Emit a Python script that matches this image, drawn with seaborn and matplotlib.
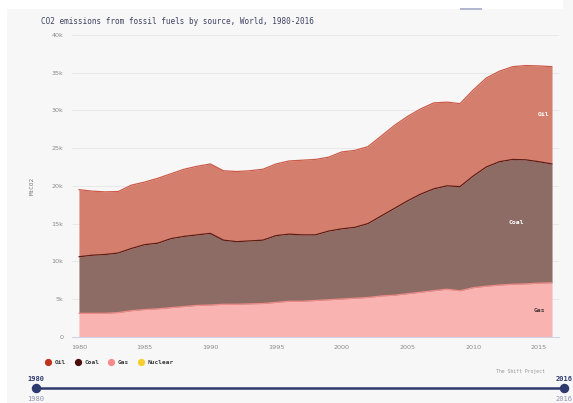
import numpy as np
import pandas as pd
import seaborn as sns
import matplotlib.pyplot as plt
from matplotlib.lines import Line2D

# values, MtCO2 (stacked tops converted to components)
years = list(range(1980, 2017))
gas = [3100, 3100, 3100, 3200, 3450, 3600, 3700, 3850, 4000, 4150,
       4200, 4300, 4300, 4350, 4400, 4550, 4700, 4700, 4800, 4900,
       5000, 5100, 5200, 5400, 5500, 5700, 5900, 6100, 6300, 6100,
       6500, 6700, 6850, 6950, 7000, 7100, 7150]
coal = [7500, 7700, 7800, 7900, 8250, 8600, 8700, 9150, 9300, 9350,
        9500, 8500, 8300, 8350, 8400, 8850, 8900, 8800, 8700, 9100,
        9300, 9400, 9800, 10600, 11500, 12300, 13000, 13500, 13700, 13800,
        14800, 15800, 16350, 16550, 16450, 16100, 15750]
oil = [8900, 8500, 8300, 8150, 8400, 8300, 8600, 8600, 8900, 9100,
       9200, 9200, 9300, 9300, 9400, 9500, 9700, 9900, 10000, 9800,
       10200, 10200, 10200, 10600, 11000, 11200, 11300, 11400, 11100, 11000,
       11400, 11800, 12000, 12300, 12500, 12700, 12900]
nuclear = [0] * len(years)

sources = ["Oil", "Coal", "Gas", "Nuclear"]
legend_colors = ["#c0321e", "#4b0c0a", "#f58a8a", "#f6cf2e"]
fill_colors = {"Gas": "#f9b4b2", "Coal": "#8e6c66", "Oil": "#d47f6e"}
edge_colors = {"Gas": "#f08a86", "Coal": "#5e1c14", "Oil": "#cd5a48"}

df = pd.DataFrame({"year": years, "Gas": gas, "Coal": coal, "Oil": oil, "Nuclear": nuclear})
df["Gas_top"] = df["Gas"]
df["Coal_top"] = df["Gas_top"] + df["Coal"]
df["Oil_top"] = df["Coal_top"] + df["Oil"]

sns.set_theme(style="white")
plt.rcParams["font.family"] = ["DejaVu Sans Mono"]
BG = "#f7f7f7"
NAVY = "#2e3a6e"

fig = plt.figure(figsize=(5.73, 4.03), dpi=100, facecolor=BG)
# white strip at the top and left like the page chrome
fig.patches.append(plt.Rectangle((0, 1 - 9 / 403), 563 / 573, 9 / 403, transform=fig.transFigure,
                                 facecolor="white", edgecolor="none"))
fig.patches.append(plt.Rectangle((0, 0), 7 / 573, 1, transform=fig.transFigure,
                                 facecolor="white", edgecolor="none"))
fig.patches.append(plt.Rectangle((460 / 573, 1 - 10 / 403), 22 / 573, 2 / 403, transform=fig.transFigure,
                                 facecolor="#b3b6cf", edgecolor="none"))

ax = fig.add_axes([71.7 / 573, 1 - 336.7 / 403, (559 - 71.7) / 573, (336.7 - 35) / 403])
ax.set_facecolor(BG)

prev = np.zeros(len(df))
for src in ["Gas", "Coal", "Oil"]:
    top = df[f"{src}_top"].values
    ax.fill_between(df["year"], prev, top, color=fill_colors[src], linewidth=0, zorder=2)
    sns.lineplot(data=df, x="year", y=f"{src}_top", color=edge_colors[src], linewidth=0.9, ax=ax, zorder=3)
    prev = top

ax.set_xlim(1979.45, 2016.53)
ax.set_ylim(0, 40000)
ax.set_yticks(range(0, 40001, 5000))
ax.set_yticklabels(["0"] + [f"{v}k" for v in range(5, 41, 5)])
ax.set_xticks(range(1980, 2016, 5))
ax.tick_params(axis="y", length=0, pad=6, labelsize=4.6, labelcolor="#8a8a8a")
ax.tick_params(axis="x", length=3, width=0.6, color="#cfd3e3", pad=3, labelsize=4.6, labelcolor="#8a8a8a")
for lbl in ax.get_xticklabels() + ax.get_yticklabels():
    lbl.set_family("DejaVu Sans")
ax.grid(axis="y", color="#e6e6e6", linewidth=0.6, zorder=0)
ax.set_axisbelow(True)
for side in ["top", "right", "left"]:
    ax.spines[side].set_visible(False)
ax.spines["bottom"].set_color("#cfd3e3")
ax.spines["bottom"].set_linewidth(0.8)
ax.set_xlabel("")
ax.set_ylabel("MtCO2", fontsize=4.3, color="#777777", labelpad=12)

# in-area labels
ax.text(2015.8, 29400, "Oil", fontsize=4.6, fontweight="bold", color="white", ha="right", va="center")
ax.text(2013.3, 15200, "Coal", fontsize=4.6, fontweight="bold", color="white", ha="center", va="center")
ax.text(2015.5, 3500, "Gas", fontsize=4.6, fontweight="bold", color="#4a3a3a", ha="right", va="center")

fig.text(41 / 573, 1 - 21 / 403, "CO2 emissions from fossil fuels by source, World, 1980-2016",
         fontsize=5.5, color="#3d4160", va="center", ha="left")

# legend
handles = [Line2D([0], [0], marker="o", linestyle="", markersize=4.2, markerfacecolor=c,
                  markeredgecolor=c, label=s) for s, c in zip(sources, legend_colors)]
leg = fig.legend(handles=handles, loc="center left", bbox_to_anchor=(42 / 573, 1 - 362 / 403), ncol=4,
                 frameon=False, handletextpad=0.1, columnspacing=0.9, prop={"size": 4.4, "weight": "bold"},
                 borderaxespad=0, borderpad=0)
for t in leg.get_texts():
    t.set_color("#3d3d3d")

fig.text(545 / 573, 1 - 372 / 403, "The Shift Project", fontsize=3.5, color="#9a9a9a", ha="right", va="center")

# year range slider
sax = fig.add_axes([36 / 573, 1 - 393 / 403, (564 - 36) / 573, 10 / 403])
sax.set_facecolor("none")
sax.axis("off")
sax.set_xlim(years[0], years[-1])
sax.set_ylim(-1, 1)
sax.plot([years[0], years[-1]], [0, 0], color=NAVY, linewidth=1.8, solid_capstyle="butt")
sax.plot([years[0], years[-1]], [0, 0], "o", color=NAVY, markersize=5.8, clip_on=False)
for yr in [years[0], years[-1]]:
    x = (36 if yr == years[0] else 564) / 573
    fig.text(x, 1 - 379 / 403, str(yr), fontsize=5, fontweight="bold", color=NAVY, ha="center", va="center")
    fig.text(x, 1 - 399 / 403, str(yr), fontsize=5, color="#8f94b0", ha="center", va="center")

fig.savefig("out.png", dpi=100, facecolor=BG)
